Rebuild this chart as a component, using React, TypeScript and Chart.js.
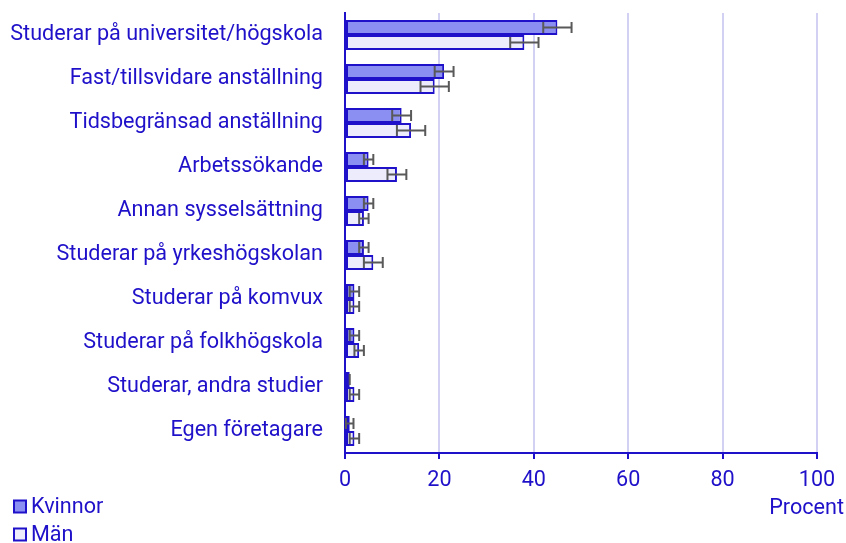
import React, { useEffect, useRef } from "react";
import { Chart, registerables } from "chart.js";

Chart.register(...registerables);

const categories = [
  "Studerar på universitet/högskola",
  "Fast/tillsvidare anställning",
  "Tidsbegränsad anställning",
  "Arbetssökande",
  "Annan sysselsättning",
  "Studerar på yrkeshögskolan",
  "Studerar på komvux",
  "Studerar på folkhögskola",
  "Studerar, andra studier",
  "Egen företagare",
];
const kvinnor = [45, 21, 12, 5, 5, 4, 2, 2, 1, 1];
const kvinnorErr = [3, 2, 2, 1, 1, 1, 1, 1, 0, 0.8];
const man = [38, 19, 14, 11, 4, 6, 2, 3, 2, 2];
const manErr = [3, 3, 3, 2, 1, 2, 1, 1, 1, 1];
const xTicks = [0, 20, 40, 60, 80, 100];
const seriesNames = ["Kvinnor", "Män"];
const axisTitle = "Procent";

const TEXT = "#1f10c9";
const BORDER = "#1f10c9";
const FILL_K = "#8c8ff2";
const FILL_M = "#ececfc";
const GRID = "#d3d1f3";
const FONT = "Roboto";
const FSIZE = 21.6;

const errorBarPlugin = {
  id: "errorBars",
  afterDatasetsDraw(chart: any) {
    const ctx = chart.ctx;
    const xScale = chart.scales.x;
    const errs = [kvinnorErr, manErr];
    ctx.save();
    ctx.strokeStyle = "#595959";
    ctx.lineWidth = 2;
    chart.data.datasets.forEach((ds: any, di: number) => {
      const meta = chart.getDatasetMeta(di);
      meta.data.forEach((bar: any, i: number) => {
        const v = ds.data[i];
        const e = errs[di][i];
        const x1 = xScale.getPixelForValue(Math.max(0, v - e));
        const x2 = xScale.getPixelForValue(v + e);
        const y = bar.y;
        const h = 5.5;
        ctx.beginPath();
        ctx.moveTo(x1, y);
        ctx.lineTo(x2, y);
        ctx.moveTo(x1, y - h);
        ctx.lineTo(x1, y + h);
        ctx.moveTo(x2, y - h);
        ctx.lineTo(x2, y + h);
        ctx.stroke();
      });
    });
    ctx.restore();
  },
};

const legendPlugin = {
  id: "customLegend",
  afterDraw(chart: any) {
    const ctx = chart.ctx;
    ctx.save();
    ctx.font = `${FSIZE}px ${FONT}`;
    ctx.textBaseline = "middle";
    const fills = [FILL_K, FILL_M];
    const ys = [507, 535];
    seriesNames.forEach((name, i) => {
      const y = ys[i];
      ctx.fillStyle = fills[i];
      ctx.fillRect(14, y - 6.5, 12, 12);
      ctx.strokeStyle = BORDER;
      ctx.lineWidth = 2;
      ctx.strokeRect(14, y - 6.5, 12, 12);
      ctx.fillStyle = TEXT;
      ctx.textAlign = "left";
      ctx.fillText(name, 31, y + 1);
    });
    ctx.textAlign = "right";
    ctx.fillText(axisTitle, chart.width - 2, 509);
    ctx.restore();
  },
};

export default function App() {
  const ref = useRef<HTMLCanvasElement | null>(null);
  useEffect(() => {
    document.body.style.margin = "0";
    const chart = new Chart(ref.current as HTMLCanvasElement, {
      type: "bar",
      data: {
        labels: categories,
        datasets: [
          {
            label: seriesNames[0],
            data: kvinnor,
            backgroundColor: FILL_K,
            borderColor: BORDER,
            borderWidth: 2,
            borderSkipped: false,
            categoryPercentage: 0.68,
            barPercentage: 1,
          },
          {
            label: seriesNames[1],
            data: man,
            backgroundColor: FILL_M,
            borderColor: BORDER,
            borderWidth: 2,
            borderSkipped: false,
            categoryPercentage: 0.68,
            barPercentage: 1,
          },
        ],
      },
      options: {
        indexAxis: "y",
        animation: false,
        responsive: false,
        maintainAspectRatio: false,
        layout: { padding: { top: 13, right: 29, bottom: 50, left: 0 } },
        plugins: {
          legend: { display: false },
          tooltip: { enabled: false },
        },
        scales: {
          x: {
            min: 0,
            max: 100,
            afterBuildTicks: (scale: any) => {
              scale.ticks = xTicks.map((v) => ({ value: v }));
            },
            afterFit: (scale: any) => {
              scale.height = 40;
            },
            grid: {
              color: GRID,
              lineWidth: 2,
              tickLength: 6,
              tickColor: BORDER,
              tickWidth: 2,
              drawOnChartArea: true,
            },
            border: { color: BORDER, width: 2 },
            ticks: {
              color: TEXT,
              font: { family: FONT, size: FSIZE },
              padding: 9,
              maxRotation: 0,
            },
          },
          y: {
            afterFit: (scale: any) => {
              scale.width = 345;
            },
            grid: {
              display: true,
              drawOnChartArea: false,
              drawTicks: true,
              tickLength: 22,
              tickColor: "rgba(0,0,0,0)",
              color: "rgba(0,0,0,0)",
            },
            border: { color: BORDER, width: 2 },
            ticks: {
              color: TEXT,
              font: { family: FONT, size: FSIZE },
              padding: 0,
              autoSkip: false,
            },
          },
        },
      },
      plugins: [errorBarPlugin, legendPlugin],
    } as any);
    return () => chart.destroy();
  }, []);
  return (
    <div style={{ position: "absolute", left: 0, top: 0, width: 846, height: 543 }}>
      <canvas ref={ref} width={846} height={543} />
    </div>
  );
}
